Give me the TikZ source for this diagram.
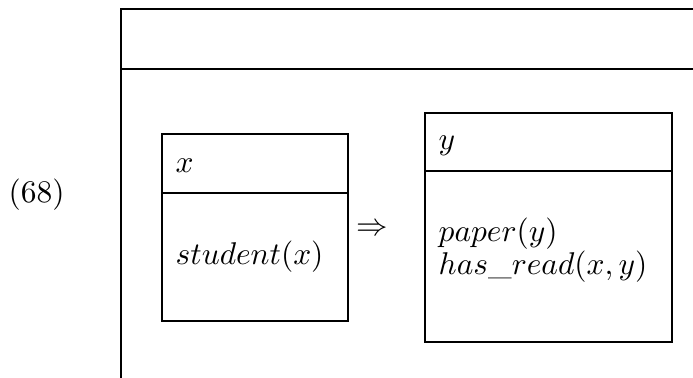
\documentclass[tikz,border=0pt]{standalone}
\usetikzlibrary{positioning}

\begin{document}
\begin{tikzpicture}[x=0.318pt, y=-0.318pt, line width=0.45pt,
    cond/.style={anchor=base west, inner sep=0pt}]

    \useasboundingbox (0,0) rectangle (693,378);

    % --- Outer box (open to the right and below) ---
    \coordinate (outer-nw) at (121,9);
    \coordinate (outer-sw) at (121,378);
    \coordinate (outer-ne) at (693,9);
    \coordinate (outer-mw) at (121,69);
    \coordinate (outer-me) at (693,69);
    \draw (outer-sw) -- (outer-nw) -- (outer-ne);
    \draw (outer-mw) -- (outer-me);

    % --- Example number ---
    \node[anchor=west, inner sep=0pt] (exnum) at (8,195) {(68)};

    % --- Antecedent box ---
    \coordinate (ant-nw) at (162,134);
    \coordinate (ant-se) at (348,321);
    \draw (ant-nw) rectangle (ant-se);
    \draw (162,193) -- (348,193);
    \node[cond] (ant-ref) at (175,173) {$x$};
    \node[cond] (ant-cond) at (175,265) {$student(x)$};

    % --- Implication ---
    \node[inner sep=0pt] (impl) at (372,230) {$\Rightarrow$};

    % --- Consequent box ---
    \coordinate (con-nw) at (425,113);
    \coordinate (con-se) at (672,342);
    \draw (con-nw) rectangle (con-se);
    \draw (425,171) -- (672,171);
    \node[cond] (con-ref) at (438,150) {$y$};
    \node[cond] (con-cond1) at (438,242) {$paper(y)$};
    \node[cond] (con-cond2) at (438,275) {$has\_read(x,y)$};

\end{tikzpicture}
\end{document}
